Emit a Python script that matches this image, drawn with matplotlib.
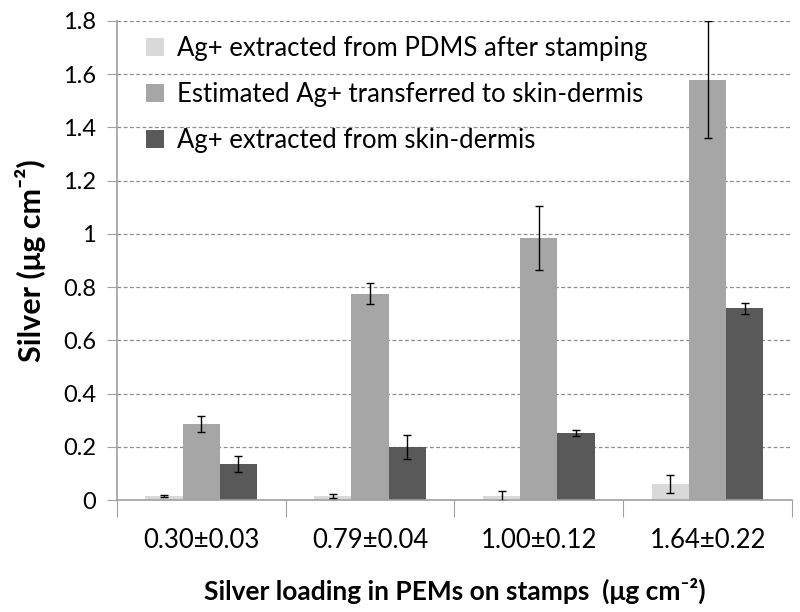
import numpy as np
import matplotlib
matplotlib.use("Agg")
import matplotlib.pyplot as plt

plt.rcParams['font.family'] = ['Lato', 'DejaVu Sans']

categories = ["0.30±0.03", "0.79±0.04", "1.00±0.12", "1.64±0.22"]
series_names = ["Ag+ extracted from PDMS after stamping",
                "Estimated Ag+ transferred to skin-dermis",
                "Ag+ extracted from skin-dermis"]
pdms = [0.015, 0.015, 0.015, 0.06]
pdms_err = [0.005, 0.006, 0.018, 0.033]
estimated = [0.285, 0.775, 0.985, 1.578]
estimated_err = [0.03, 0.04, 0.12, 0.22]
dermis = [0.135, 0.198, 0.252, 0.72]
dermis_err = [0.03, 0.045, 0.01, 0.02]
colors = ["#d9d9d9", "#a6a6a6", "#595959"]

fig = plt.figure(figsize=(8, 6.12), dpi=100)
ax = fig.add_axes([0.146, 0.183, 0.844, 0.783])

x = np.arange(len(categories))
w = 0.22
for i, (vals, errs) in enumerate([(pdms, pdms_err), (estimated, estimated_err), (dermis, dermis_err)]):
    ax.bar(x + (i - 1) * w, vals, w, color=colors[i], label=series_names[i], zorder=2)
    ax.errorbar(x + (i - 1) * w, vals, yerr=errs, fmt='none', ecolor='black',
                elinewidth=1, capsize=3, capthick=1, zorder=3)

ax.set_ylim(0, 1.8)
ax.set_xlim(-0.5, len(categories) - 0.5)
ax.set_yticks(np.arange(0, 1.81, 0.2))
ax.set_yticklabels(["0", "0.2", "0.4", "0.6", "0.8", "1", "1.2", "1.4", "1.6", "1.8"])
ax.yaxis.grid(True, linestyle=(0, (3, 2)), color="#8c8c8c", linewidth=0.9, zorder=0)

# category boundaries as ticks, labels in between
ax.set_xticks(np.arange(-0.5, len(categories), 1.0))
ax.set_xticklabels([])
ax.set_xticks(x, minor=True)
ax.set_xticklabels(categories, minor=True, fontsize=18.5)
ax.tick_params(axis='x', which='major', length=12, direction='out', color="#a0a0a0")
ax.tick_params(axis='x', which='minor', length=0, pad=20)
ax.tick_params(axis='y', length=7, direction='out', color="#a0a0a0", labelsize=17, pad=8)

for s in ['top', 'right']:
    ax.spines[s].set_visible(False)
for s in ['left', 'bottom']:
    ax.spines[s].set_color("#a0a0a0")
    ax.spines[s].set_linewidth(1.2)

ax.set_ylabel("Silver (μg cm⁻²)", fontsize=22, fontweight='bold', labelpad=12)
ax.set_xlabel("Silver loading in PEMs on stamps  (μg cm⁻²)", fontsize=19,
              fontweight='bold', labelpad=18)

ax.legend(loc='upper left', bbox_to_anchor=(0.02, 1.0), frameon=False, fontsize=18.5,
          handlelength=0.7, handleheight=0.7, handletextpad=0.5, labelspacing=0.82,
          borderaxespad=0.2)

fig.savefig("out.png", dpi=100)
